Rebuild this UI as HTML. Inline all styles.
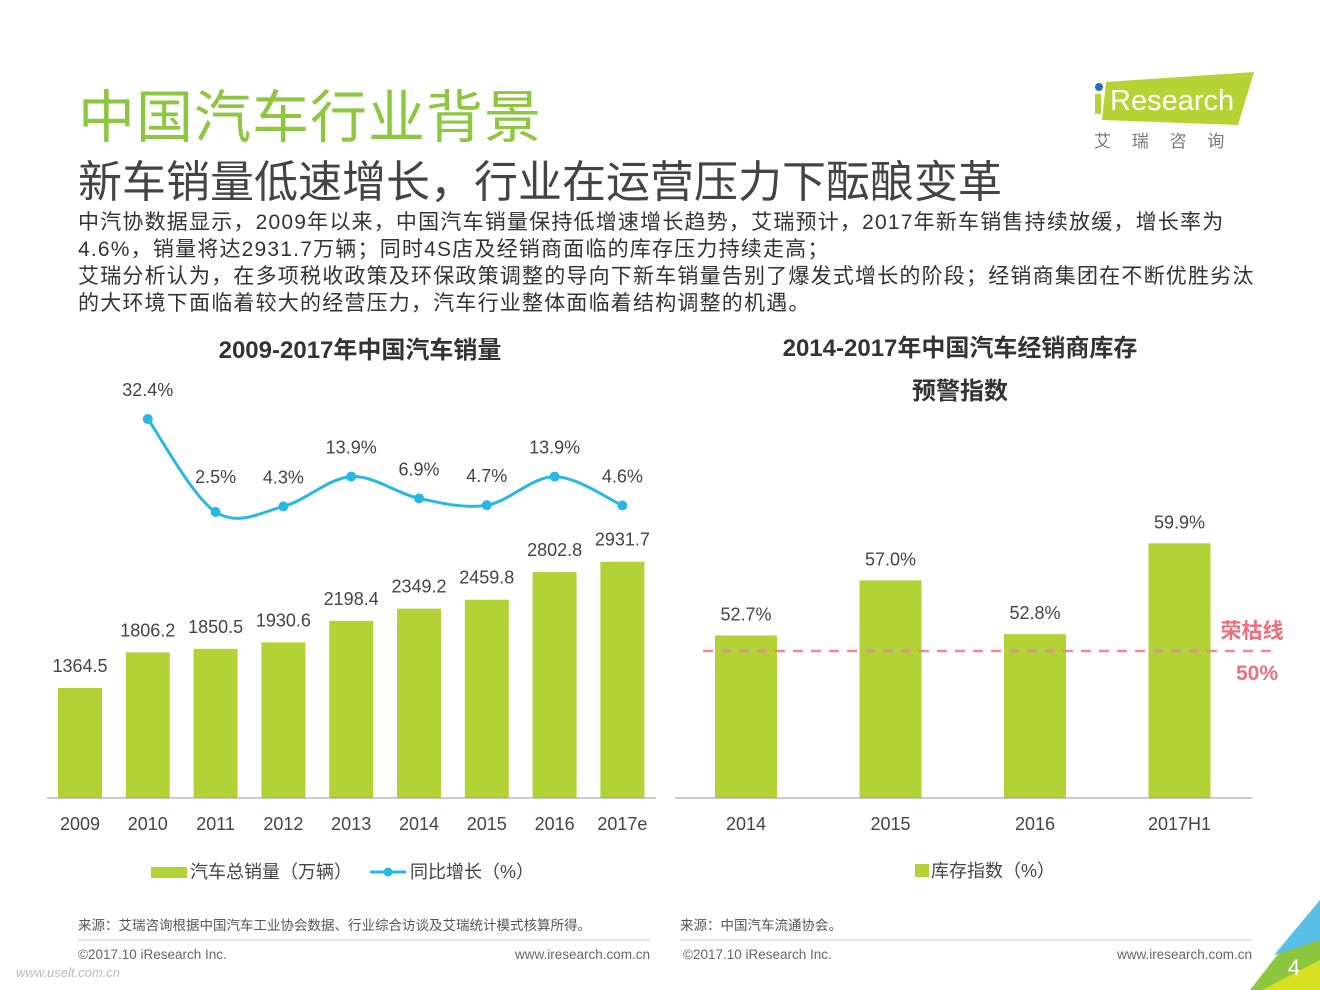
<!DOCTYPE html>
<html><head><meta charset="utf-8">
<style>
body{margin:0;width:1320px;height:990px;background:#fff;overflow:hidden;position:relative;font-family:"Liberation Sans","Noto Sans CJK SC",sans-serif;}
.abs{position:absolute;white-space:nowrap;}
</style></head><body>
<div class="abs" style="left:78px;top:72px;font-size:57px;color:#8dc63f;letter-spacing:1px">中国汽车行业背景</div>
<div class="abs" style="left:78px;top:146px;font-size:44px;color:#444">新车销量低速增长，行业在运营压力下酝酿变革</div>
<div class="abs" style="left:78px;top:209px;font-size:21px;line-height:27px;color:#333;letter-spacing:1.2px">中汽协数据显示，2009年以来，中国汽车销量保持低增速增长趋势，艾瑞预计，2017年新车销售持续放缓，增长率为<br>4.6%，销量将达2931.7万辆；同时4S店及经销商面临的库存压力持续走高；<br>艾瑞分析认为，在多项税收政策及环保政策调整的导向下新车销量告别了爆发式增长的阶段；经销商集团在不断优胜劣汰<br>的大环境下面临着较大的经营压力，汽车行业整体面临着结构调整的机遇。</div>
<div class="abs" style="left:1092px;top:70px;width:165px;height:90px">
<svg width="165" height="90"><polygon points="14,12 162,2 146,55 10,50" fill="#b5d334"/><circle cx="7" cy="17" r="4" fill="#2f6db5"/><rect x="3" y="24" width="6" height="20" fill="#b5d334"/><text x="18" y="40" font-size="29" fill="#fff" font-family="Liberation Sans">Research</text><text x="2" y="77" font-size="17" fill="#777" font-family="Noto Sans CJK SC">艾　 瑞　 咨　 询</text></svg></div>
<svg id="c" width="1320" height="990" style="position:absolute;left:0;top:0" font-family="Liberation Sans, Noto Sans CJK SC, sans-serif"></svg>
<script>
const years=["2009","2010","2011","2012","2013","2014","2015","2016","2017e"];
const sales=[1364.5,1806.2,1850.5,1930.6,2198.4,2349.2,2459.8,2802.8,2931.7];
const growth=[32.4,2.5,4.3,13.9,6.9,4.7,13.9,4.6];
const periods=["2014","2015","2016","2017H1"];
const stock=[52.7,57.0,52.8,59.9];
const S=document.getElementById('c');const N='http://www.w3.org/2000/svg';
function el(t,a,p){const e=document.createElementNS(N,t);for(const k in a)e.setAttribute(k,a[k]);(p||S).appendChild(e);return e;}
function tx(x,y,s,a,name){const e=el('text',Object.assign({x:x,y:y,'text-anchor':'middle','font-size':18,fill:'#444'},a||{}));e.textContent=s;

return e;}
const G='#b2d235';
const lx=i=>80+i*67.8, ly=v=>798-v*0.0806, gy=v=>519.8-3.11*v;
tx(360,358,'2009-2017年中国汽车销量',{'font-size':24,'font-weight':'bold',fill:'#333'},'left-chart-title');
sales.forEach((v,i)=>{const r=el('rect',{x:lx(i)-22,y:ly(v),width:44,height:798-ly(v),fill:G});


tx(lx(i),ly(v)-16,v.toFixed(1),{},'bar-value');tx(lx(i),830,years[i],{},'x-tick');});
el('line',{x1:47,x2:656,y1:798,y2:798,stroke:'#999','stroke-width':1});
const pts=growth.map((v,i)=>[lx(i+1),gy(v)]);
let d='M'+pts[0][0]+','+pts[0][1];
for(let i=0;i<pts.length-1;i++){const p0=pts[Math.max(0,i-1)],p1=pts[i],p2=pts[i+1],p3=pts[Math.min(pts.length-1,i+2)];
d+=` C${p1[0]+(p2[0]-p0[0])/6},${p1[1]+(p2[1]-p0[1])/6} ${p2[0]-(p3[0]-p1[0])/6},${p2[1]-(p3[1]-p1[1])/6} ${p2[0]},${p2[1]}`;}
const ln=el('path',{d:d,fill:'none',stroke:'#29b8e6','stroke-width':3});


pts.forEach((p,i)=>{const c=el('circle',{cx:p[0],cy:p[1],r:5,fill:'#29b8e6'});


tx(p[0],p[1]-(i==1?29:23),growth[i]+'%',{},'growth-value');});
el('rect',{x:151,y:867,width:36,height:11,fill:G});tx(190,878,'汽车总销量（万辆）',{'text-anchor':'start'},'legend-sales');
el('line',{x1:370,x2:406,y1:872,y2:872,stroke:'#29b8e6','stroke-width':3});el('circle',{cx:388,cy:872,r:4.5,fill:'#29b8e6'});
tx(410,878,'同比增长（%）',{'text-anchor':'start'},'legend-growth');
const rx=i=>746+i*144.5, ry=v=>798-(v-40)*12.8;
tx(960,356,'2014-2017年中国汽车经销商库存',{'font-size':24,'font-weight':'bold',fill:'#333'},'right-chart-title');
tx(960,399,'预警指数',{'font-size':24,'font-weight':'bold',fill:'#333'},'right-chart-title-2');
stock.forEach((v,i)=>{const r=el('rect',{x:rx(i)-31,y:ry(v),width:62,height:798-ry(v),fill:G});


tx(rx(i),ry(v)-15,v.toFixed(1)+'%',{},'bar-value');tx(rx(i),830,periods[i],{},'x-tick');});
el('line',{x1:675,x2:1252,y1:798,y2:798,stroke:'#999','stroke-width':1});
el('line',{x1:703,x2:1275,y1:651,y2:651,stroke:'#ec8a93','stroke-width':2.5,'stroke-dasharray':'10,8'});
tx(1252,638,'荣枯线',{'font-size':21,'font-weight':'bold',fill:'#ec6f7b'},'threshold-label');
tx(1257,680,'50%',{'font-size':21,'font-weight':'bold',fill:'#ec6f7b'},'threshold-value');
el('rect',{x:915,y:864,width:14,height:13,fill:G});tx(931,877,'库存指数（%）',{'text-anchor':'start'},'legend-stock');
tx(78,930,'来源：艾瑞咨询根据中国汽车工业协会数据、行业综合访谈及艾瑞统计模式核算所得。',{'text-anchor':'start','font-size':13.5,fill:'#555'},'source-left');
tx(680,930,'来源：中国汽车流通协会。',{'text-anchor':'start','font-size':13.5,fill:'#555'},'source-right');
el('line',{x1:78,x2:650,y1:940,y2:940,stroke:'#ccc'});el('line',{x1:680,x2:1252,y1:940,y2:940,stroke:'#ccc'});
tx(78,959,'©2017.10 iResearch Inc.',{'text-anchor':'start','font-size':13.5,fill:'#666'},'copyright-left');
tx(650,959,'www.iresearch.com.cn',{'text-anchor':'end','font-size':13.5,fill:'#666'},'url-left');
tx(683,959,'©2017.10 iResearch Inc.',{'text-anchor':'start','font-size':13.5,fill:'#666'},'copyright-right');
tx(1252,959,'www.iresearch.com.cn',{'text-anchor':'end','font-size':13.5,fill:'#666'},'url-right');
el('polygon',{points:'1320,900 1320,990 1250,990',fill:'#8dc63f'});
el('polygon',{points:'1320,900 1274,955 1320,940',fill:'#5bc0e8'});
el('polygon',{points:'1320,960 1320,990 1262,990',fill:'#d7e022'});
tx(1294,975,'4',{'font-size':22,fill:'#fff'},'page-number');
tx(16,977,'www.uselt.com.cn',{'text-anchor':'start','font-size':13,fill:'#bbb','font-style':'italic'},'watermark');
</script>
</body></html>
